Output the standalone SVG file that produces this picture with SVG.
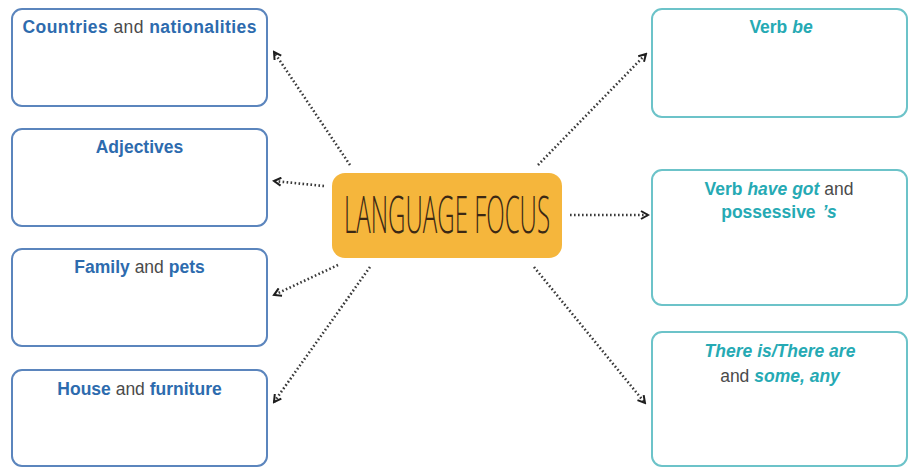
<svg xmlns="http://www.w3.org/2000/svg" width="922" height="476" viewBox="0 0 922 476">
<defs>
<style>
.lbox{fill:#fff;stroke:#5b85bd;stroke-width:2}
.rbox{fill:#fff;stroke:#6cc3c9;stroke-width:2}
.t{font-family:"Liberation Sans",Arial,sans-serif;font-size:17.5px;text-anchor:middle}
.b{fill:#2d6bae;font-weight:bold}
.g{fill:#4a4a4a}
.c{fill:#26aab4;font-weight:bold}
.ci{fill:#26aab4;font-weight:bold;font-style:italic}
.conn{fill:none;stroke:#3a3a3a;stroke-width:2.6;stroke-dasharray:1.6 2.4}
</style>
<marker id="ah" viewBox="0 0 10 10" refX="8" refY="5" markerWidth="10" markerHeight="10" markerUnits="userSpaceOnUse" orient="auto">
<path d="M1,1 L8,5 L1,9" fill="none" stroke="#1e1e1e" stroke-width="2"/>
</marker>
</defs>
<rect width="922" height="476" fill="#fff"/>
<g id="connectors">
<line class="conn" x1="350" y1="165" x2="274" y2="52" marker-end="url(#ah)"/>
<line class="conn" x1="538" y1="165" x2="646" y2="54" marker-end="url(#ah)"/>
<line class="conn" x1="324" y1="186" x2="274" y2="181" marker-end="url(#ah)"/>
<line class="conn" x1="570" y1="215" x2="648" y2="215" marker-end="url(#ah)"/>
<line class="conn" x1="338" y1="265" x2="274" y2="295" marker-end="url(#ah)"/>
<line class="conn" x1="370" y1="267" x2="274" y2="402" marker-end="url(#ah)"/>
<line class="conn" x1="534" y1="267" x2="645" y2="403" marker-end="url(#ah)"/>
</g>
<g id="center">
<rect x="332" y="173" width="230" height="85" rx="13" fill="#f5b63c"/>
<text x="447" y="233" font-family="'Open Sans','DejaVu Sans Condensed',sans-serif" font-weight="300" font-size="52" fill="#3b2814" text-anchor="middle" textLength="206" lengthAdjust="spacingAndGlyphs">LANGUAGE FOCUS</text>
</g>
<g id="countries">
<rect class="lbox" x="12" y="9" width="255" height="97" rx="10"/>
<text class="t" x="139.5" y="33" textLength="234"><tspan class="b">Countries</tspan><tspan class="g"> and </tspan><tspan class="b">nationalities</tspan></text>
</g>
<g id="adjectives">
<rect class="lbox" x="12" y="129" width="255" height="97" rx="10"/>
<text class="t b" x="139.5" y="153">Adjectives</text>
</g>
<g id="family">
<rect class="lbox" x="12" y="249" width="255" height="97" rx="10"/>
<text class="t" x="139.5" y="273"><tspan class="b">Family</tspan><tspan class="g"> and </tspan><tspan class="b">pets</tspan></text>
</g>
<g id="house">
<rect class="lbox" x="12" y="370" width="255" height="96" rx="10"/>
<text class="t" x="139.5" y="395"><tspan class="b">House</tspan><tspan class="g"> and </tspan><tspan class="b">furniture</tspan></text>
</g>
<g id="verb-be">
<rect class="rbox" x="652" y="9" width="255" height="108" rx="10"/>
<text class="t" x="781" y="33"><tspan class="c">Verb </tspan><tspan class="ci">be</tspan></text>
</g>
<g id="have-got">
<rect class="rbox" x="652" y="170" width="255" height="135" rx="10"/>
<text class="t" x="779" y="195"><tspan class="c">Verb </tspan><tspan class="ci">have got</tspan><tspan class="g"> and</tspan></text>
<text class="t" x="779" y="218"><tspan class="c">possessive </tspan><tspan class="ci" dx="2">’s</tspan></text>
</g>
<g id="there-is">
<rect class="rbox" x="652" y="332" width="255" height="134" rx="10"/>
<text class="t ci" x="780" y="357">There is/There are</text>
<text class="t" x="780" y="382"><tspan class="g">and </tspan><tspan class="ci">some, any</tspan></text>
</g>
</svg>
